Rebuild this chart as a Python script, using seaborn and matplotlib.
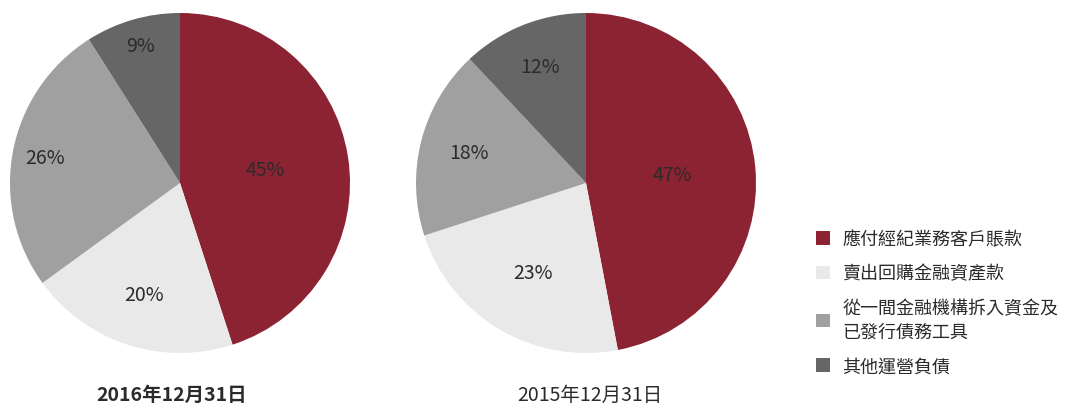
import matplotlib
matplotlib.use("Agg")
import matplotlib.pyplot as plt
import seaborn as sns
import numpy as np
from matplotlib.patches import Patch

categories = ["應付經紀業務客戶賬款", "賣出回購金融資產款",
              "從一間金融機構拆入資金及\n已發行債務工具", "其他運營負債"]
values_2016 = [45, 20, 26, 9]
values_2015 = [47, 23, 18, 12]
titles = ["2016年12月31日", "2015年12月31日"]

sns.set_theme(style="white")
plt.rcParams['font.family'] = ['Noto Sans CJK TC', 'DejaVu Sans']

colors = ["#8B2332", "#E9E9E9", "#A0A0A0", "#666666"]
text_color = "#2b2b2b"

fig = plt.figure(figsize=(10.67, 4.06), dpi=100)

def draw(ax, vals, label_r):
    wedges, _ = ax.pie(vals, colors=colors, startangle=90, counterclock=False,
                       radius=1.0, wedgeprops=dict(linewidth=0))
    for w, v, r in zip(wedges, vals, label_r):
        ang = np.deg2rad((w.theta1 + w.theta2) / 2)
        ax.text(r * np.cos(ang), r * np.sin(ang), f"{v}%", ha="center", va="center",
                fontsize=14, color=text_color)
    ax.set_xlim(-1.0, 1.0)
    ax.set_ylim(-1.0, 1.0)
    ax.set_aspect("equal")

ax1 = fig.add_axes([10/1067, 52/406, 340/1067, 340/406])
draw(ax1, values_2016, [0.51, 0.69, 0.81, 0.84])
ax2 = fig.add_axes([416/1067, 52/406, 340/1067, 340/406])
draw(ax2, values_2015, [0.51, 0.61, 0.71, 0.74])

fig.text(172/1067, 1 - 395/406, titles[0], ha="center", va="center",
         fontsize=14, fontweight="bold", color=text_color)
fig.text(590/1067, 1 - 395/406, titles[1], ha="center", va="center",
         fontsize=14, color=text_color)

handles = [Patch(facecolor=c, edgecolor="none") for c in colors]
leg = fig.legend(handles, categories, loc="upper left",
                 bbox_to_anchor=(809/1067, 1 - 224/406), frameon=False,
                 fontsize=13, handlelength=0.75, handleheight=0.75,
                 handletextpad=0.7, labelspacing=0.9, borderaxespad=0)
for t in leg.get_texts():
    t.set_color(text_color)
    t.set_linespacing(1.45)

fig.savefig("out.png", dpi=100)
